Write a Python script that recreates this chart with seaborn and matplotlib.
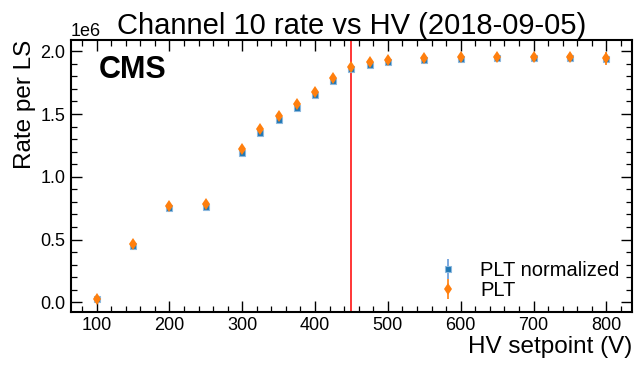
import numpy as np
import matplotlib
matplotlib.use("Agg")
import matplotlib.pyplot as plt
from matplotlib.ticker import MultipleLocator, AutoMinorLocator
import seaborn as sns

# HV scan of channel 10
hv = [100, 150, 200, 250, 300, 325, 350, 375, 400, 425, 450, 475,
      500, 550, 600, 650, 700, 750, 800]
rate_norm = [0.025, 0.451, 0.749, 0.762, 1.190, 1.347, 1.453, 1.551, 1.652,
             1.766, 1.856, 1.894, 1.912, 1.931, 1.939, 1.944, 1.946, 1.944, 1.941]
rate_plt = [0.030, 0.467, 0.770, 0.783, 1.219, 1.378, 1.484, 1.580, 1.676,
            1.790, 1.877, 1.917, 1.933, 1.949, 1.955, 1.957, 1.957, 1.955, 1.944]
err_norm = [0.008, 0.010, 0.010, 0.010, 0.012, 0.012, 0.012, 0.012, 0.012,
            0.012, 0.012, 0.012, 0.012, 0.012, 0.012, 0.012, 0.012, 0.012, 0.030]
err_plt = [0.015, 0.018, 0.018, 0.018, 0.020, 0.020, 0.020, 0.020, 0.020,
           0.020, 0.020, 0.020, 0.020, 0.020, 0.020, 0.020, 0.020, 0.020, 0.050]
scale = 1e6
hv_operating = 450

sns.set_theme(style="ticks")
plt.rcParams["font.family"] = ["Liberation Sans", "DejaVu Sans"]
plt.rcParams.update({
    "text.color": "black", "axes.labelcolor": "black",
    "xtick.direction": "in", "ytick.direction": "in",
    "xtick.top": True, "ytick.right": True,
    "xtick.minor.visible": True, "ytick.minor.visible": True,
    "xtick.major.size": 8, "ytick.major.size": 8,
    "xtick.minor.size": 4.3, "ytick.minor.size": 4.3,
    "xtick.major.width": 1.0, "ytick.major.width": 1.0,
    "xtick.minor.width": 0.9, "ytick.minor.width": 0.9,
    "xtick.major.pad": 4, "ytick.major.pad": 4,
    "xtick.labelsize": 13, "ytick.labelsize": 13,
    "axes.linewidth": 1.5, "axes.edgecolor": "black",
    "xtick.color": "black", "ytick.color": "black",
})

fig = plt.figure(figsize=(6.35, 3.66), dpi=100)
ax = fig.add_axes([0.112, 0.148, 0.883, 0.743])

pal = sns.color_palette("tab10")
ax.errorbar(np.array(hv), np.array(rate_norm) * scale, yerr=np.array(err_norm) * scale,
            fmt="s", ms=5, color=pal[0], mec=(0.55, 0.72, 0.87), mew=0.8,
            ecolor=(0.4, 0.6, 0.85), elinewidth=1.2, label="PLT normalized", zorder=3)
ax.errorbar(np.array(hv), np.array(rate_plt) * scale, yerr=np.array(err_plt) * scale,
            fmt="d", ms=6, color=pal[1], mew=0, elinewidth=1.2,
            label="PLT", zorder=4)
ax.axvline(hv_operating, color="red", lw=1.1, zorder=2)

ax.set_xlim(65, 835)
ax.set_ylim(-0.075e6, 2.09e6)
ax.xaxis.set_major_locator(MultipleLocator(100))
ax.xaxis.set_minor_locator(AutoMinorLocator(5))
ax.yaxis.set_major_locator(MultipleLocator(0.5e6))
ax.yaxis.set_minor_locator(AutoMinorLocator(5))
ax.yaxis.get_offset_text().set_fontsize(13)

ax.set_title("Channel 10 rate vs HV (2018-09-05)", fontsize=21, pad=3)
ax.set_xlabel("HV setpoint (V)", fontsize=17.5, loc="right", labelpad=1)
ax.set_ylabel("Rate per LS", fontsize=17.5, loc="top", labelpad=3)
ax.text(0.049, 0.945, "CMS", transform=ax.transAxes, fontsize=22,
        fontweight="bold", va="top", ha="left")

ax.legend(loc="lower right", frameon=False, fontsize=14.5, handletextpad=0.6,
          borderaxespad=0.2, labelspacing=0.05)

fig.savefig("out.png", dpi=100)
